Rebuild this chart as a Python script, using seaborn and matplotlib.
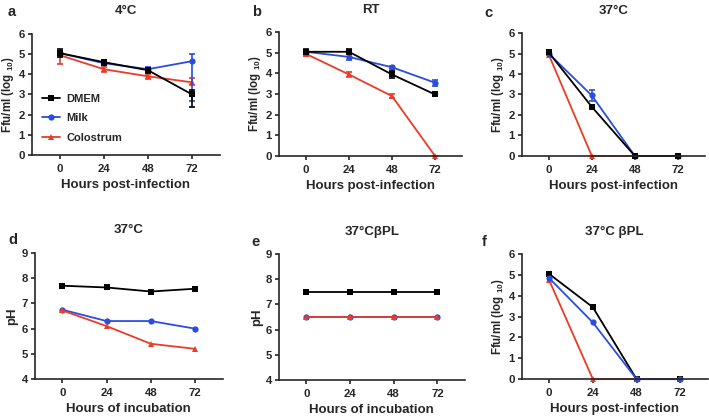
import numpy as np
import pandas as pd
import matplotlib
matplotlib.use('Agg')
import matplotlib.pyplot as plt
import seaborn as sns

# --------------------------------------------------------------------------
# data
# --------------------------------------------------------------------------
hours = [0, 24, 48, 72]
groups = ['DMEM', 'Milk', 'Colostrum']

# a: 4C, titer (log10)
a_dmem = [5.05, 4.6, 4.2, 3.0]
a_milk = [5.05, 4.55, 4.25, 4.65]
a_colo = [4.95, 4.25, 3.9, 3.6]
a_dmem_lo = [0.2, 0.12, 0.12, 0.6]
a_dmem_hi = [0.2, 0.12, 0.12, 0.2]
a_milk_lo = [0.1, 0.1, 0.1, 1.95]
a_milk_hi = [0.1, 0.1, 0.1, 0.33]
a_colo_lo = [0.45, 0.12, 0.12, 0.12]
a_colo_hi = [0.1, 0.1, 0.12, 0.2]

# b: RT
b_dmem = [5.05, 5.05, 3.95, 2.98]
b_milk = [5.05, 4.8, 4.3, 3.55]
b_colo = [4.95, 3.95, 2.9, 0.0]
b_dmem_err = [0.12, 0.12, 0.18, 0.05]
b_milk_err = [0.1, 0.15, 0.08, 0.15]
b_colo_err = [0.1, 0.1, 0.08, 0.0]

# c: 37C
c_dmem = [5.05, 2.4, 0.0, 0.0]
c_milk = [5.0, 2.95, 0.0, 0.0]
c_colo = [4.95, 0.0, 0.0, 0.0]
c_milk_err = [0.05, 0.25, 0.0, 0.0]

# d: pH at 37C
d_dmem = [7.7, 7.63, 7.47, 7.58]
d_milk = [6.75, 6.3, 6.3, 6.0]
d_colo = [6.72, 6.1, 5.4, 5.2]

# e: pH at 37C bPL
e_dmem = [7.5, 7.5, 7.5, 7.5]
e_milk = [6.5, 6.5, 6.5, 6.5]
e_colo = [6.5, 6.5, 6.5, 6.5]

# f: 37C bPL titer
f_dmem = [5.05, 3.45, 0.0, 0.0]
f_milk = [4.85, 2.72, 0.0, 0.0]
f_colo = [4.75, 0.0, 0.0, 0.0]

# --------------------------------------------------------------------------
# style
# --------------------------------------------------------------------------
sns.set_style('ticks')
plt.rcParams['font.family'] = ['Liberation Sans', 'DejaVu Sans']
plt.rcParams['font.weight'] = 'bold'
plt.rcParams['axes.labelweight'] = 'bold'
plt.rcParams['axes.titleweight'] = 'bold'
plt.rcParams['mathtext.fontset'] = 'custom'
plt.rcParams['mathtext.rm'] = 'Liberation Sans:bold'
plt.rcParams['mathtext.bf'] = 'Liberation Sans:bold'
plt.rcParams['mathtext.it'] = 'Liberation Sans:bold'

colors = {'DMEM': '#000000', 'Milk': '#2a4de0', 'Colostrum': '#ec3b26'}
markers = {'DMEM': 's', 'Milk': 'o', 'Colostrum': '^'}

fig = plt.figure(figsize=(7.09, 4.18), dpi=100)

lefts = [0.045, 0.3935, 0.736]
pos_top = [(lefts[0], 0.629, 0.265, 0.290), (lefts[1], 0.627, 0.258, 0.296),
           (lefts[2], 0.627, 0.258, 0.294)]
pos_bot = [(0.049, 0.093, 0.265, 0.302), (lefts[1], 0.091, 0.262, 0.301),
           (lefts[2], 0.093, 0.262, 0.299)]

ylab_titer = r'Ffu/ml (log $_{\mathbf{10}}$)'


def make_df(vals):
    rows = []
    for g, v in zip(groups, vals):
        for h, y in zip(hours, v):
            rows.append({'hours': h, 'value': y, 'group': g})
    return pd.DataFrame(rows)


def draw(ax, vals, errs=None, order=None):
    df = make_df(vals)
    order = order or groups
    for g in order:
        sub = df[df['group'] == g]
        sns.lineplot(data=sub, x='hours', y='value', ax=ax, color=colors[g],
                     marker=markers[g], markersize=4.5, markeredgewidth=0,
                     linewidth=1.3, label=g, legend=False, clip_on=False)
        if errs and g in errs:
            lo, hi = errs[g]
            ax.errorbar(hours, vals[groups.index(g)], yerr=[lo, hi], fmt='none',
                        ecolor=colors[g], elinewidth=1.2, capsize=2.5,
                        capthick=1.2, clip_on=False)


def finish(ax, ylim, yticks, ylabel, xlabel, title, ylsize=8.3):
    ax.set_xlim(-15, 87)
    ax.set_ylim(*ylim)
    ax.set_xticks(hours)
    ax.set_yticks(yticks)
    ax.set_xlabel(xlabel, fontsize=9.5, labelpad=3.5)
    ax.set_ylabel(ylabel, fontsize=ylsize, labelpad=2)
    ax.set_title(title, fontsize=9.5, pad=14)
    ax.tick_params(labelsize=8.2, width=1.2, length=3, pad=2)
    ax.tick_params(axis='x', pad=3.5)
    for s in ['left', 'bottom']:
        ax.spines[s].set_linewidth(1.2)
    sns.despine(ax=ax)


axes = [fig.add_axes(p) for p in pos_top + pos_bot]
ax_a, ax_b, ax_c, ax_d, ax_e, ax_f = axes

draw(ax_a, [a_dmem, a_milk, a_colo],
     errs={'DMEM': (a_dmem_lo, a_dmem_hi), 'Milk': (a_milk_lo, a_milk_hi),
           'Colostrum': (a_colo_lo, a_colo_hi)}, order=['Colostrum', 'Milk', 'DMEM'])
finish(ax_a, (0, 6), range(7), ylab_titer, 'Hours post-infection', '4°C')
leg_h = {}
for ln in ax_a.lines:
    if ln.get_label() in groups:
        leg_h[ln.get_label()] = ln
ax_a.legend([leg_h[g] for g in groups], groups, loc='lower left',
            bbox_to_anchor=(0.0, 0.02), frameon=False,
            handlelength=1.6, handletextpad=0.6, labelspacing=0.85,
            prop={'weight': 'bold', 'size': 8})

draw(ax_b, [b_dmem, b_milk, b_colo],
     errs={'DMEM': (b_dmem_err, b_dmem_err), 'Milk': (b_milk_err, b_milk_err),
           'Colostrum': (b_colo_err, b_colo_err)}, order=['Colostrum', 'Milk', 'DMEM'])
finish(ax_b, (0, 6), range(7), ylab_titer, 'Hours post-infection', 'RT')

draw(ax_c, [c_dmem, c_milk, c_colo], errs={'Milk': (c_milk_err, c_milk_err)},
     order=['Colostrum', 'Milk', 'DMEM'])
finish(ax_c, (0, 6), range(7), ylab_titer, 'Hours post-infection', '37°C')

draw(ax_d, [d_dmem, d_milk, d_colo], order=['DMEM', 'Milk', 'Colostrum'])
finish(ax_d, (4, 9), range(4, 10), 'pH', 'Hours of incubation', '37°C', ylsize=9.5)

draw(ax_e, [e_dmem, e_milk, e_colo], order=['DMEM', 'Milk', 'Colostrum'])
finish(ax_e, (4, 9), range(4, 10), 'pH', 'Hours of incubation', '37°CβPL', ylsize=9.5)

draw(ax_f, [f_dmem, f_milk, f_colo], order=['DMEM', 'Colostrum', 'Milk'])
finish(ax_f, (0, 6), range(7), ylab_titer, 'Hours post-infection', '37°C βPL')

# panel letters
letters = [('a', 8, 12), ('b', 252, 12), ('c', 484, 13),
           ('d', 8, 240), ('e', 251, 242), ('f', 482, 242)]
for t, x, y in letters:
    fig.text(x / 709, 1 - y / 418, t, fontsize=10.5, fontweight='bold',
             ha='left', va='center')

fig.savefig('out.png', dpi=100)
